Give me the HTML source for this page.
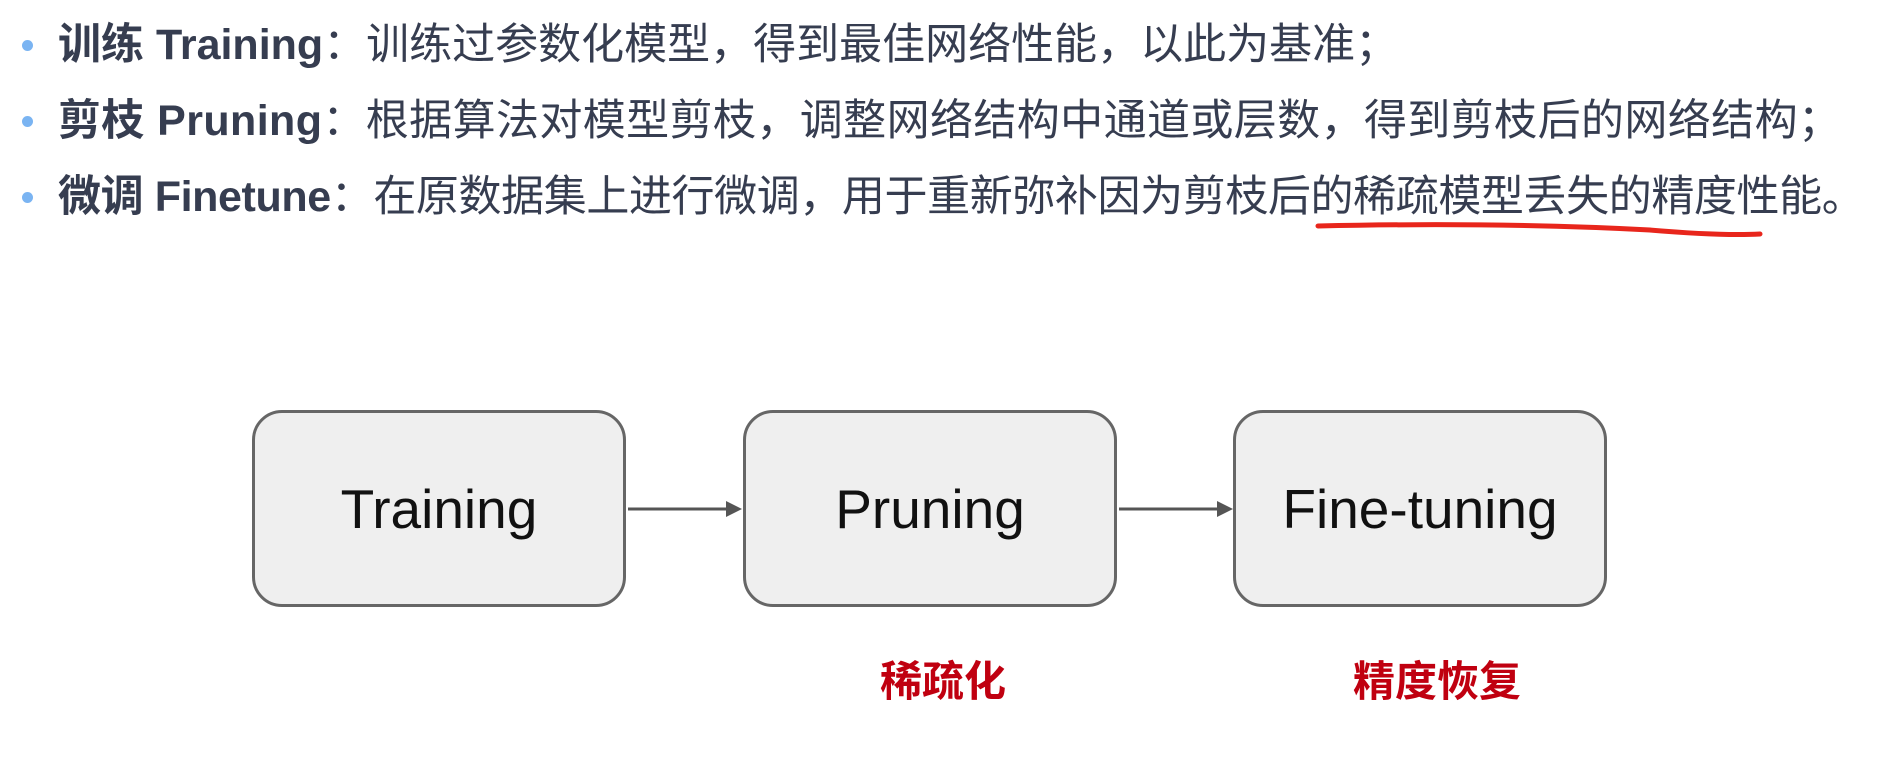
<!DOCTYPE html>
<html><head><meta charset="utf-8"><style>
body{margin:0;width:1892px;height:762px;background:#fff;position:relative;overflow:hidden;font-family:"Liberation Sans","Noto Sans CJK SC",sans-serif}
.l{position:absolute;left:58px;font-size:43px;color:#363d50;white-space:nowrap;line-height:1}
.l b{font-weight:bold}
.dot{position:absolute;left:22px;width:11px;height:11px;border-radius:50%;background:#7ab4f2}
.box{position:absolute;top:410px;width:374px;height:197px;border:3px solid #666;border-radius:30px;background:#efefef;box-sizing:border-box;display:flex;align-items:center;justify-content:center;font-size:55px;color:#111;font-family:"Liberation Sans",sans-serif}
.red{position:absolute;top:648px;font-size:42px;font-weight:bold;color:#c00010;white-space:nowrap}
</style></head><body>
<div class="dot" style="top:40px"></div>
<div class="l" style="top:24px"><b>训练 Training</b>：训练过参数化模型，得到最佳网络性能，以此为基准；</div>
<div class="dot" style="top:116px"></div>
<div class="l" style="top:100px;letter-spacing:0.4px"><b>剪枝 Pruning</b>：根据算法对模型剪枝，调整网络结构中通道或层数，得到剪枝后的网络结构；</div>
<div class="dot" style="top:192px"></div>
<div class="l" style="top:176px;letter-spacing:-0.4px"><b>微调 Finetune</b>：在原数据集上进行微调，用于重新弥补因为剪枝后的稀疏模型丢失的精度性能。</div>
<svg style="position:absolute;left:0;top:0" width="1892" height="762">
<path d="M1318 226 Q1500 222 1650 230 Q1720 236 1760 234" stroke="#e8261c" stroke-width="5" fill="none" stroke-linecap="round"/>
<line x1="628" y1="509" x2="728" y2="509" stroke="#555" stroke-width="3"/>
<polygon points="742,509 726,501 726,517" fill="#555"/>
<line x1="1119" y1="509" x2="1219" y2="509" stroke="#555" stroke-width="3"/>
<polygon points="1233,509 1217,501 1217,517" fill="#555"/>
</svg>
<div class="box" style="left:252px">Training</div>
<div class="box" style="left:743px">Pruning</div>
<div class="box" style="left:1233px">Fine-tuning</div>
<div class="red" style="left:880px">稀疏化</div>
<div class="red" style="left:1353px">精度恢复</div>
</body></html>
